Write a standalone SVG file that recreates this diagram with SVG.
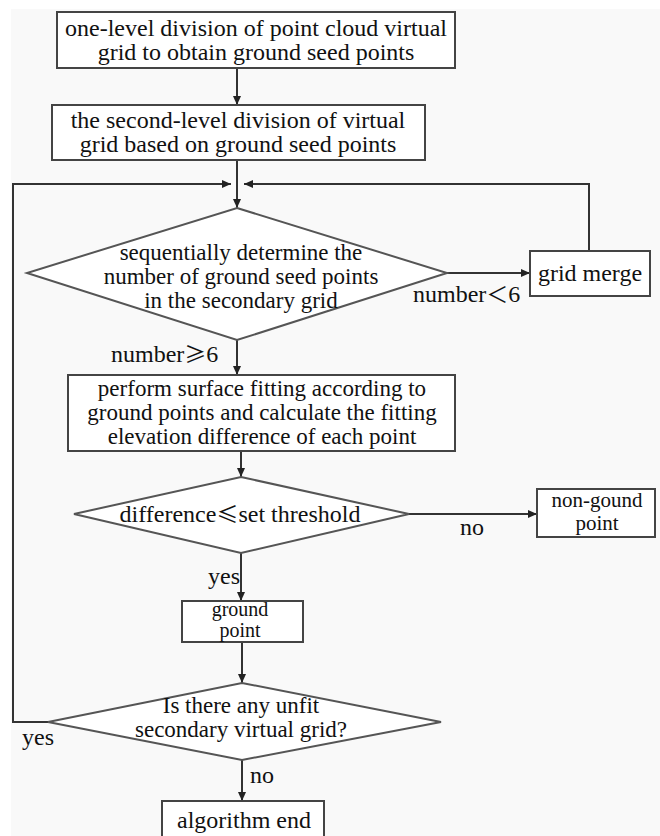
<svg xmlns="http://www.w3.org/2000/svg" width="660" height="836" viewBox="0 0 660 836">
<defs>
<marker id="ah" markerWidth="9" markerHeight="8" refX="9" refY="4" orient="auto" markerUnits="userSpaceOnUse">
<path d="M0,0 L9,4 L0,8 Z" fill="#222"/>
</marker>
<style>
text{font-family:"Liberation Serif","DejaVu Serif","Noto Serif",Tinos,"Times New Roman",serif;font-size:24px;fill:#111}
.bx{fill:#fff;stroke:#444;stroke-width:2}
.dm{fill:#fff;stroke:#555;stroke-width:2}
.ln{fill:none;stroke:#333;stroke-width:2}
.t{text-anchor:middle}
.m{font-size:23px}
.cj{font-family:"Noto Sans CJK SC",sans-serif;font-size:22px}
</style>
</defs>
<rect width="660" height="836" fill="#ffffff"/>
<rect x="11" y="9" width="649" height="827" fill="#f9f9f9"/>
<g id="connectors">
<line class="ln" x1="237" y1="68" x2="237" y2="105" marker-end="url(#ah)"/>
<line class="ln" x1="237" y1="160" x2="237" y2="208" marker-end="url(#ah)"/>
<polyline class="ln" points="48,722 13,722 13,184 231,184" marker-end="url(#ah)"/>
<polyline class="ln" points="589,251 589,184 244,184" marker-end="url(#ah)"/>
<line class="ln" x1="447" y1="273" x2="530" y2="273" marker-end="url(#ah)"/>
<line class="ln" x1="237" y1="340" x2="237" y2="375" marker-end="url(#ah)"/>
<line class="ln" x1="241" y1="451" x2="241" y2="477" marker-end="url(#ah)"/>
<line class="ln" x1="409" y1="514" x2="537" y2="514" marker-end="url(#ah)"/>
<line class="ln" x1="241" y1="553" x2="241" y2="601" marker-end="url(#ah)"/>
<line class="ln" x1="242" y1="642" x2="242" y2="683" marker-end="url(#ah)"/>
<line class="ln" x1="242" y1="760" x2="242" y2="801" marker-end="url(#ah)"/>
<text x="413" y="302">number<tspan class="cj">＜</tspan>6</text>
<text x="111" y="362">number<tspan class="cj">≥</tspan>6</text>
<text x="460" y="535">no</text>
<text x="208" y="584">yes</text>
<text x="22" y="745">yes</text>
<text x="250" y="783">no</text>
</g>
<g id="n1">
<rect class="bx" x="57" y="12" width="398" height="56"/>
<text class="t" x="256" y="36">one-level division of point cloud virtual</text>
<text class="t" x="256" y="60">grid to obtain ground seed points</text>
</g>
<g id="n2">
<rect class="bx" x="52" y="105" width="373" height="55"/>
<text class="t" x="238" y="128">the second-level division of virtual</text>
<text class="t" x="238" y="152">grid based on ground seed points</text>
</g>
<g id="n3">
<polygon class="dm" points="237,208 447,273 237,340 27,273"/>
<text class="t m" x="241" y="260">sequentially determine the</text>
<text class="t m" x="241" y="284">number of ground seed points</text>
<text class="t m" x="241" y="308">in the secondary grid</text>
</g>
<g id="n4">
<rect class="bx" x="530" y="251" width="120" height="45"/>
<text class="t" x="590" y="281">grid merge</text>
</g>
<g id="n5">
<rect class="bx" x="68" y="375" width="387" height="76"/>
<text class="t m" x="262" y="396">perform surface fitting according to</text>
<text class="t m" x="262" y="420">ground points and calculate the fitting</text>
<text class="t m" x="262" y="444">elevation difference of each point</text>
</g>
<g id="n6">
<polygon class="dm" points="241,477 409,514 241,553 74,514"/>
<text class="t" x="240" y="522">difference<tspan class="cj">≤</tspan>set threshold</text>
</g>
<g id="n7">
<rect class="bx" x="537" y="489" width="118" height="48"/>
<text class="t" x="597" y="507" style="font-size:21px">non-gound</text>
<text class="t" x="597" y="530" style="font-size:21px">point</text>
</g>
<g id="n8">
<rect class="bx" x="182" y="601" width="121" height="41"/>
<text class="t" x="240" y="616" style="font-size:20px">ground</text>
<text class="t" x="240" y="637" style="font-size:20px">point</text>
</g>
<g id="n9">
<polygon class="dm" points="242,683 441,722 242,760 48,722"/>
<text class="t m" x="241" y="713">Is there any unfit</text>
<text class="t m" x="241" y="737">secondary virtual grid?</text>
</g>
<g id="n10">
<rect class="bx" x="162" y="801" width="162" height="45"/>
<text class="t" x="244" y="828">algorithm end</text>
</g>
</svg>
